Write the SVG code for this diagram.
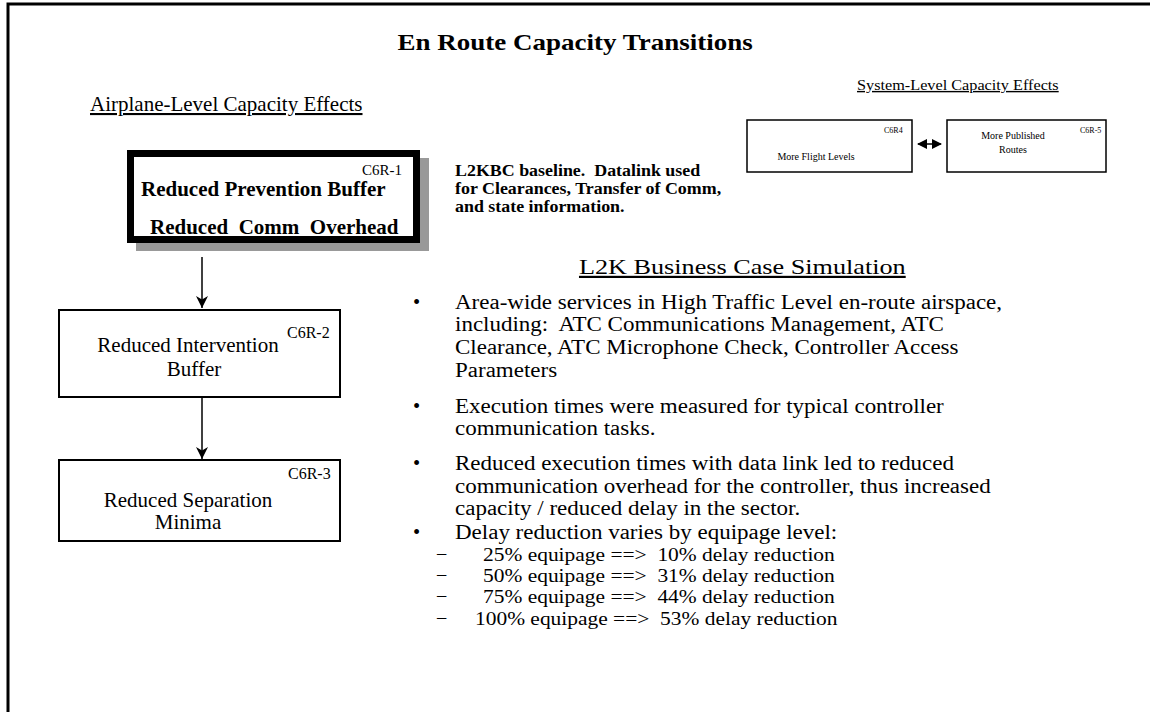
<svg xmlns="http://www.w3.org/2000/svg" width="1150" height="712" viewBox="0 0 1150 712">
<style>
.t{font-family:"Liberation Serif","Times New Roman",serif;fill:#000}
.b{font-weight:bold}
.box{fill:#fff;stroke:#000;stroke-width:2}
.sbox{fill:#fff;stroke:#000;stroke-width:1.5}
.conn{stroke:#000;stroke-width:1.5;fill:none}
</style>
<defs>
<marker id="ah" markerWidth="12" markerHeight="12" refX="10" refY="5" orient="auto" markerUnits="userSpaceOnUse" viewBox="0 0 10 10">
<path d="M0,0 L10,5 L0,10 L3,5 z" fill="#000"/>
</marker>
<marker id="dh" markerWidth="10" markerHeight="10" refX="9" refY="5" orient="auto-start-reverse" markerUnits="userSpaceOnUse" viewBox="0 0 10 10">
<path d="M0,0 L10,5 L0,10 z" fill="#000"/>
</marker>
</defs>
<rect width="1150" height="712" fill="#fff"/>
<path d="M8,712 L8,4 L1150,4" fill="none" stroke="#000" stroke-width="3"/>
<text class="t b" x="575" y="50" font-size="23" text-anchor="middle" transform="matrix(1.174 0 0 1 -100 0)">En Route Capacity Transitions</text>
<text class="t" x="90" y="111" font-size="21" text-decoration="underline">Airplane-Level Capacity Effects</text>
<text class="t" x="857" y="90" font-size="14" text-decoration="underline" transform="matrix(1.16 0 0 1 -137.1 0)">System-Level Capacity Effects</text>
<g id="c6r1">
<rect x="136" y="158" width="293" height="93" fill="#999"/>
<rect x="130.5" y="153.5" width="286" height="86" fill="#fff" stroke="#000" stroke-width="7"/>
<text class="t" x="362" y="175" font-size="15">C6R-1</text>
<text class="t b" x="141" y="196" font-size="21">Reduced Prevention Buffer</text>
<text class="t b" x="150" y="234" font-size="21" xml:space="preserve">Reduced  Comm  Overhead</text>
</g>
<g id="note" transform="matrix(1.12 0 0 1 -54.6 0)">
<text class="t b" x="455" y="176" font-size="16" xml:space="preserve">L2KBC baseline.  Datalink used</text>
<text class="t b" x="455" y="194" font-size="16">for Clearances, Transfer of Comm,</text>
<text class="t b" x="455" y="212" font-size="16">and state information.</text>
</g>
<g id="c6r2">
<rect class="box" x="59" y="310" width="281" height="87"/>
<text class="t" x="287" y="338" font-size="16">C6R-2</text>
<text class="t" x="188" y="352" font-size="21" text-anchor="middle">Reduced Intervention</text>
<text class="t" x="194" y="376" font-size="21" text-anchor="middle">Buffer</text>
</g>
<g id="c6r3">
<rect class="box" x="59" y="460" width="281" height="81"/>
<text class="t" x="288" y="479" font-size="16">C6R-3</text>
<text class="t" x="188" y="507" font-size="21" text-anchor="middle">Reduced Separation</text>
<text class="t" x="188" y="529" font-size="21" text-anchor="middle">Minima</text>
</g>
<g id="c6r4">
<rect class="sbox" x="747" y="120" width="165" height="52"/>
<text class="t" x="884" y="133" font-size="8">C6R4</text>
<text class="t" x="816" y="160" font-size="10" text-anchor="middle">More Flight Levels</text>
</g>
<g id="c6r5">
<rect class="sbox" x="947" y="120" width="159" height="52"/>
<text class="t" x="1080" y="133" font-size="8">C6R-5</text>
<text class="t" x="1013" y="139" font-size="10" text-anchor="middle">More Published</text>
<text class="t" x="1013" y="153" font-size="10" text-anchor="middle">Routes</text>
</g>
<g id="connectors">
<line class="conn" x1="202" y1="257" x2="202" y2="308" marker-end="url(#ah)"/>
<line class="conn" x1="202" y1="398" x2="202" y2="459" marker-end="url(#ah)"/>
<line class="conn" x1="918" y1="144" x2="941" y2="144" marker-start="url(#dh)" marker-end="url(#dh)"/>
</g>
<g id="simulation">
<text class="t" x="579" y="274" font-size="22" text-decoration="underline" transform="matrix(1.191 0 0 1 -110.6 0)">L2K Business Case Simulation</text>
<g font-size="20.5">
<text class="t" x="413" y="309">•</text>
<text class="t" x="413" y="413">•</text>
<text class="t" x="413" y="470">•</text>
<text class="t" x="413" y="539">•</text>
</g>
<g font-size="20.5" transform="matrix(1.122 0 0 1 -55.5 0)">
<text class="t" x="455" y="309">Area-wide services in High Traffic Level en-route airspace,</text>
<text class="t" x="455" y="331" xml:space="preserve">including:  ATC Communications Management, ATC</text>
<text class="t" x="455" y="354">Clearance, ATC Microphone Check, Controller Access</text>
<text class="t" x="455" y="377">Parameters</text>
<text class="t" x="455" y="413">Execution times were measured for typical controller</text>
<text class="t" x="455" y="435">communication tasks.</text>
<text class="t" x="455" y="470">Reduced execution times with data link led to reduced</text>
<text class="t" x="455" y="493">communication overhead for the controller, thus increased</text>
<text class="t" x="455" y="515">capacity / reduced delay in the sector.</text>
<text class="t" x="455" y="539">Delay reduction varies by equipage level:</text>
</g>
<g font-size="18.5">
<text class="t" x="437" y="559">–</text>
<text class="t" x="437" y="580">–</text>
<text class="t" x="437" y="601">–</text>
<text class="t" x="437" y="623">–</text>
</g>
<g font-size="18.5" transform="matrix(1.16 0 0 1 -77.28 0)">
<text class="t" x="483" y="561" xml:space="preserve">25% equipage ==&gt;  10% delay reduction</text>
<text class="t" x="483" y="582" xml:space="preserve">50% equipage ==&gt;  31% delay reduction</text>
<text class="t" x="483" y="603" xml:space="preserve">75% equipage ==&gt;  44% delay reduction</text>
<text class="t" x="476.1" y="625" xml:space="preserve">100% equipage ==&gt;  53% delay reduction</text>
</g>
</g>
</svg>
